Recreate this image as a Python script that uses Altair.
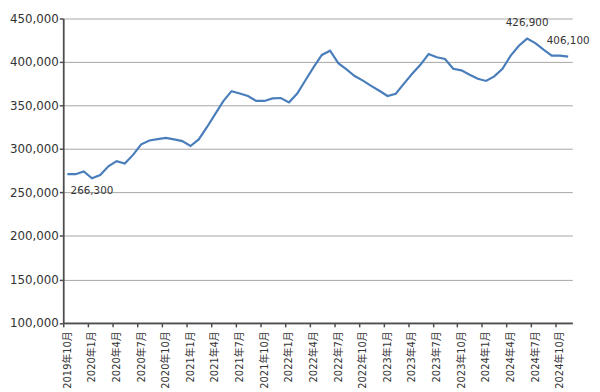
import json
import altair as alt
import pandas as pd

# Monthly values, 2019年10月 .. 2024年11月
months = [f"{2019 + (9 + i) // 12}年{(9 + i) % 12 + 1}月" for i in range(62)]
values = [
    271000, 271000, 274200, 266300, 270100, 280000, 286000, 283300, 293200, 305300,
    309800, 311300, 312800, 311000, 309000, 303400, 311000, 325000, 340000, 355000,
    366500, 363800, 360900, 355200, 355200, 358100, 358600, 353600, 363800, 379000,
    394100, 408100, 413000, 398600, 391500, 383900, 378600, 372500, 366900, 360900,
    363500, 375200, 386500, 396700, 409200, 405400, 403500, 392200, 390400, 385400,
    380800, 378200, 383500, 392200, 407400, 418700, 426900, 421700, 414200, 407400,
    407400, 406100,
]
tick_labels = months[0::3]
y_ticks = [100000, 150000, 200000, 250000, 300000, 350000, 400000, 450000]

# annotated points
below_idx = [3]
below_text = ["266,300"]
above_idx = [56, 61]
above_text = ["426,900", "406,100"]

df = pd.DataFrame({"idx": list(range(len(values))), "month": months, "value": values})
below = pd.DataFrame({"idx": below_idx, "value": [values[i] for i in below_idx], "text": below_text})
above = pd.DataFrame({"idx": above_idx, "value": [values[i] for i in above_idx], "text": above_text})

FONT = "Verdana, DejaVu Sans, Noto Sans CJK JP"
N = len(values)

x_scale = alt.Scale(domain=[-0.5, N - 0.5], nice=False, zero=False)
y_scale = alt.Scale(domain=[100000, 450000], nice=False, zero=False)

x_enc = alt.X(
    "idx:Q",
    scale=x_scale,
    axis=alt.Axis(
        values=[i - 0.5 for i in range(0, N, 3)],
        labelExpr=f"{json.dumps(tick_labels, ensure_ascii=False)}[round((datum.value + 0.5) / 3)]",
        labelAngle=-90,
        labelAlign="right",
        labelBaseline="middle",
        labelOffset=4,
        labelPadding=4,
        labelFontSize=10,
        labelFont=FONT,
        labelColor="#333333",
        labelOverlap=False,
        labelBound=False,
        tickSize=4,
        tickColor="#4d4d4d",
        tickWidth=1.5,
        domainColor="#4d4d4d",
        domainWidth=1.8,
        grid=False,
        title=None,
    ),
)
y_enc = alt.Y(
    "value:Q",
    scale=y_scale,
    axis=alt.Axis(
        values=y_ticks,
        format=",d",
        labelFontSize=12,
        labelFont=FONT,
        labelColor="#333333",
        labelPadding=1,
        labelOverlap=False,
        tickSize=4,
        tickColor="#4d4d4d",
        tickWidth=1.5,
        domainColor="#4d4d4d",
        domainWidth=1.8,
        grid=True,
        gridColor="#a6a6a6",
        gridWidth=1,
        title=None,
    ),
)

line = alt.Chart(df).mark_line(color="#4a7ebb", strokeWidth=2.2).encode(x=x_enc, y=y_enc)


def text_layer(data, dy):
    return alt.Chart(data).mark_text(
        font=FONT, fontSize=10.5, color="#333333", align="center", baseline="middle", dy=dy
    ).encode(x=x_enc, y=y_enc, text="text:N")


chart = (
    alt.layer(line, text_layer(below, 13), text_layer(above, -16))
    .properties(
        width=516,
        height=308.6,
        autosize=alt.AutoSizeParams(type="none"),
        padding={"left": 56, "top": 8, "right": 20, "bottom": 70},
        background="white",
    )
    .configure_view(stroke=None)
)

chart.save("out.html", embed_options={"renderer": "svg", "actions": False})
